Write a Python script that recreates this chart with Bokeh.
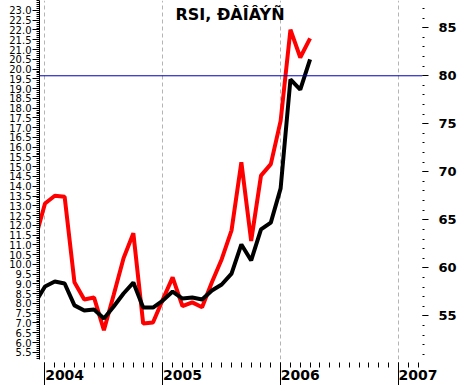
from bokeh.plotting import figure
from bokeh.models import Range1d, LinearAxis, FixedTicker, Span, Label, NumeralTickFormatter, ColumnDataSource
from bokeh.embed import file_html
from bokeh.resources import INLINE

# ---- data (monthly) ----
months = ["2003-12", "2004-01", "2004-02", "2004-03", "2004-04", "2004-05", "2004-06",
          "2004-07", "2004-08", "2004-09", "2004-10", "2004-11", "2004-12",
          "2005-01", "2005-02", "2005-03", "2005-04", "2005-05", "2005-06",
          "2005-07", "2005-08", "2005-09", "2005-10", "2005-11", "2005-12",
          "2006-01", "2006-02", "2006-03", "2006-04"]
price = [8.03, 8.87, 9.12, 9.02, 7.90, 7.64, 7.69, 7.23, 7.84, 8.51, 9.07, 7.79, 7.79,
         8.15, 8.61, 8.25, 8.30, 8.20, 8.66, 8.97, 9.53, 11.02, 10.20, 11.79, 12.14,
         13.89, 19.47, 18.95, 20.49]
rsi = [63.0, 66.7, 67.5, 67.4, 58.5, 56.7, 56.9, 53.5, 57.2, 61.0, 63.6, 54.2, 54.3,
       56.7, 59.0, 56.0, 56.4, 55.9, 58.5, 60.9, 63.9, 71.0, 62.8, 69.6, 70.8,
       75.3, 84.8, 81.9, 83.9]
rsi_level = 80
years = ["2004", "2005", "2006", "2007"]
left_ticks = [5.5 + 0.5 * k for k in range(36)]
right_ticks = [55, 60, 65, 70, 75, 80, 85]
title_text = "RSI, ÐÀÎÂÝÑ"

def month_index(s):
    y, m = s.split("-")
    return (int(y) - 2004) * 12 + int(m) - 1

xs = [month_index(s) for s in months]
year_pos = [(int(y) - 2004) * 12 for y in years]
all_months = list(range(-1, 40))
LABEL_MONTH = 2  # year label is centred a little to the right of the year tick
label_map = {pos + LABEL_MONTH: yr for pos, yr in zip(year_pos, years)}

src = ColumnDataSource(dict(x=xs, price=price, rsi=rsi))

X0, X1 = -0.56, 38.45
Y0, Y1 = 5.13, 23.51

p = figure(width=460, height=385, output_backend="svg", toolbar_location=None,
           x_range=Range1d(X0, X1), y_range=Range1d(Y0, Y1),
           min_border_left=39, min_border_right=38, min_border_top=0, min_border_bottom=26,
           background_fill_color="white", border_fill_color="white")
p.outline_line_color = None
p.extra_y_ranges = {"rsi": Range1d(50.45, 87.84)}

# grid
p.ygrid.visible = False
p.xgrid.ticker = FixedTicker(ticks=year_pos)
p.xgrid.grid_line_color = "#b4b4b4"
p.xgrid.grid_line_dash = "4 3"
p.xgrid.grid_line_width = 1

# x axis: month ticks (major, carry the year labels) and long year ticks (minor)
xa = p.xaxis[0]
xa.ticker = FixedTicker(ticks=all_months, minor_ticks=year_pos)
xa.major_label_overrides = {m: label_map.get(m, "") for m in all_months}
xa.axis_line_color = None
xa.major_tick_in = -3
xa.major_tick_out = 8
xa.minor_tick_in = -3
xa.minor_tick_out = 26
xa.major_tick_line_color = "black"
xa.minor_tick_line_color = "black"
xa.major_label_standoff = -16
xa.major_label_text_font = "DejaVu Sans"
xa.major_label_text_font_style = "bold"
xa.major_label_text_font_size = "14px"
xa.major_label_text_color = "black"

# left axis
ya = p.yaxis[0]
ya.ticker = FixedTicker(ticks=left_ticks, minor_ticks=[round(5.2 + 0.1 * k, 2) for k in range(184)])
ya.formatter = NumeralTickFormatter(format="0.0")
ya.axis_line_color = "black"
ya.major_tick_in = 0
ya.major_tick_out = 7
ya.minor_tick_in = 0
ya.minor_tick_out = 3
ya.major_tick_line_color = "black"
ya.minor_tick_line_color = "black"
ya.major_label_standoff = 1
ya.major_label_text_font = "DejaVu Sans"
ya.major_label_text_font_size = "10px"
ya.major_label_text_color = "black"

# right axis
ra = LinearAxis(y_range_name="rsi")
ra.ticker = FixedTicker(ticks=right_ticks, minor_ticks=list(range(51, 88)))
ra.axis_line_color = None
ra.major_tick_in = 0
ra.major_tick_out = 6
ra.minor_tick_in = 0
ra.minor_tick_out = 2
ra.major_tick_line_color = "black"
ra.minor_tick_line_color = "black"
ra.major_label_standoff = 10
ra.major_label_text_font = "DejaVu Sans"
ra.major_label_text_font_style = "bold"
ra.major_label_text_font_size = "13px"
ra.major_label_text_color = "black"
p.add_layout(ra, "right")

# level line
p.add_layout(Span(location=rsi_level, dimension="width", y_range_name="rsi",
                  line_color="#0000b4", line_width=1))

# series
p.line("x", "rsi", source=src, y_range_name="rsi", line_color="#ff0000", line_width=4)
p.line("x", "price", source=src, line_color="#000000", line_width=4)

# title
p.add_layout(Label(x=136, y=Y1, x_units="screen", y_units="data", y_offset=-4, text=title_text,
                   text_font="DejaVu Sans", text_font_style="bold", text_font_size="16px",
                   text_color="black", text_align="left", text_baseline="top"))

open("out.html", "w").write(file_html(p, INLINE))
